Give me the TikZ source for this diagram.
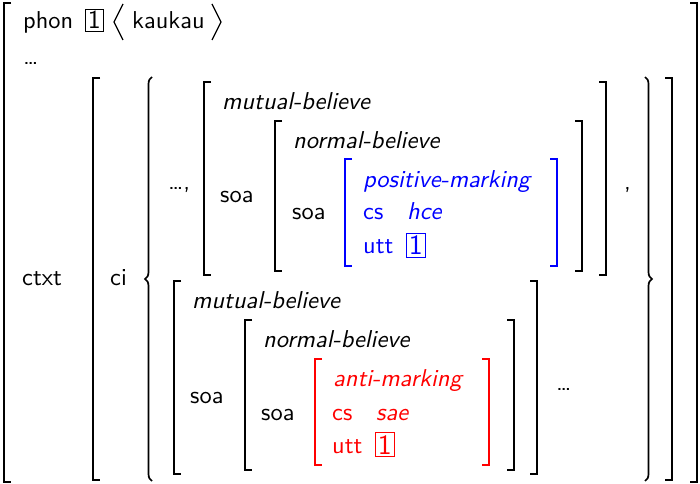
\documentclass[tikz,border=0pt]{standalone}
\usepackage{graphicx}
\usetikzlibrary{decorations.pathreplacing}
\definecolor{avmblue}{RGB}{0,0,255}
\definecolor{avmred}{RGB}{255,0,0}
\newcommand\LBk[4]{\draw[brk,#4] (#1+7,#2) -- (#1,#2) -- (#1,#3) -- (#1+7,#3);}
\newcommand\RBk[4]{\draw[brk,#4] (#1-7,#2) -- (#1,#2) -- (#1,#3) -- (#1-7,#3);}
\newcommand\Tx[1]{\scalebox{2.45}{#1}}
\begin{document}
\begin{tikzpicture}[x=1bp,y=-1bp,
  brk/.style={line width=1.7bp, line join=miter},
  t/.style={anchor=base west, inner sep=0pt, font=\sffamily},
  ti/.style={anchor=base west, inner sep=0pt, font=\sffamily\itshape},
  bx/.style={anchor=base west, draw, line width=1bp, inner sep=2.4bp, font=\sffamily},
  brc/.style={line width=1.7bp, decorate, decoration={brace, amplitude=7bp}}]
\useasboundingbox (0,0) rectangle (700,484);
% outer matrix
\LBk{4}{3}{482}{}
\RBk{697}{3}{482}{}
\node[t] (phon) at (23,29) {\Tx{phon}};
\node[bx] (tag0) at (85,29) {\scalebox{2.6}{1}};
\draw[line width=1.2bp] (123,4) -- (114,22) -- (123,40);
\node[t] (kau) at (132,29) {\Tx{kaukau}};
\draw[line width=1.2bp] (212,4) -- (221,22) -- (212,40);
\node[t] (dots0) at (23,65) {\Tx{\ldots}};
\node[t] (ctxt) at (22,285) {\Tx{ctxt}};
% ctxt matrix
\LBk{93}{78}{480}{}
\RBk{672}{78}{480}{}
\node[t] (ci) at (110,285) {\Tx{ci}};
% set braces
\draw[brc] (152,481) -- (152,77);
\draw[brc] (645,77) -- (645,481);
\node[t] (dots1) at (168,190) {\Tx{\ldots,}};
\node[t] (comma) at (624,190) {\Tx{,}};
% first mutual-believe
\LBk{204}{82}{275}{}
\RBk{606}{82}{275}{}
\node[ti] (mb1) at (222,110) {\Tx{mutual-believe}};
\node[t] (soa1) at (220,203) {\Tx{soa}};
\LBk{275}{121}{271}{}
\RBk{582}{121}{271}{}
\node[ti] (nb1) at (293,149) {\Tx{normal-believe}};
\node[t] (soa2) at (292,220) {\Tx{soa}};
\LBk{345}{159}{266}{avmblue}
\RBk{557}{159}{266}{avmblue}
\node[ti,avmblue] (pm) at (363,188) {\Tx{positive-marking}};
\node[t,avmblue] (cs1) at (363,220) {\Tx{cs}};
\node[ti,avmblue] (hce) at (407,220) {\Tx{hce}};
\node[t,avmblue] (utt1) at (363,254) {\Tx{utt}};
\node[bx,avmblue] (tag1) at (406,255) {\scalebox{2.8}{1}};
% second mutual-believe
\LBk{174}{281}{474}{}
\RBk{537}{281}{474}{}
\node[ti] (mb2) at (192,308) {\Tx{mutual-believe}};
\node[t] (soa3) at (190,403) {\Tx{soa}};
\node[t] (dots2) at (556,390) {\Tx{\ldots}};
\LBk{245}{320}{470}{}
\RBk{514}{320}{470}{}
\node[ti] (nb2) at (263,347) {\Tx{normal-believe}};
\node[t] (soa4) at (261,420) {\Tx{soa}};
\LBk{315}{359}{465}{avmred}
\RBk{489}{359}{465}{avmred}
\node[ti,avmred] (am) at (333,386) {\Tx{anti-marking}};
\node[t,avmred] (cs2) at (332,420) {\Tx{cs}};
\node[ti,avmred] (sae) at (376,420) {\Tx{sae}};
\node[t,avmred] (utt2) at (332,453) {\Tx{utt}};
\node[bx,avmred] (tag2) at (375,454) {\scalebox{2.8}{1}};
\end{tikzpicture}
\end{document}
